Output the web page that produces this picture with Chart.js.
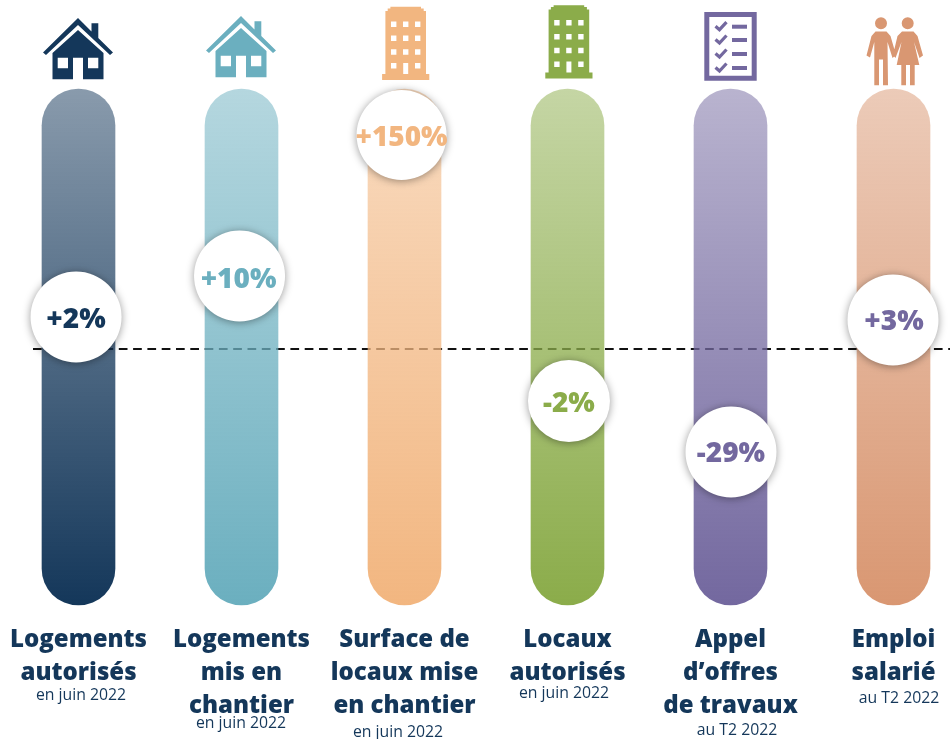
<!DOCTYPE html>
<html>
<head>
<meta charset="utf-8">
<title>Indicateurs construction</title>
<script src="https://cdn.jsdelivr.net/npm/chart.js@4"></script>
<style>
    html, body { margin: 0; padding: 0; background: #fff; overflow: hidden; }
    canvas { display: block; }
</style>
</head>
<body>
<canvas id="chart" width="950" height="739"></canvas>
<script>
// categories, one array per line of the label
const categories = [
    ['Logements', 'autorisés'],
    ['Logements', 'mis en', 'chantier'],
    ['Surface de', 'locaux mise', 'en chantier'],
    ['Locaux', 'autorisés'],
    ['Appel', 'd’offres', 'de travaux'],
    ['Emploi', 'salarié']
];
const periods = ['en juin 2022', 'en juin 2022', 'en juin 2022', 'en juin 2022', 'au T2 2022', 'au T2 2022'];
const changeLabels = ['+2%', '+10%', '+150%', '-2%', '-29%', '+3%'];

// height of the circles above the dashed line (read off the picture, not to scale)
const markerLevels = [32, 73, 214, -52, -103, 29];
const markerShift = [-0.015, -0.012, -0.018, 0.009, 0.003, -0.003];
const markerSizes = [45.5, 45.5, 45, 41, 45.5, 45.5];
const barRange = [-256, 260];

const colors = ['#14375a', '#6bafbf', '#f2b680', '#8bac4a', '#73689f', '#d99772'];
const markerTextColors = ['#14375a', '#6bafbf', '#f2b680', '#8bac4a', '#73689f', '#73689f'];
const textColor = '#14375a';

// small corrections for the text inside the circles
const labelNudgeX = [0, -1, 0, 0, 0, 1];
const labelNudgeY = [3, 4, 3, 3, 2, 2];

// where the small period text sits
const periodX = [81, 241, 398, 564, 737, 899];
const periodY = [695, 723, 732, 693, 730, 698];

function withAlpha(hex, a) {
    const n = parseInt(hex.slice(1), 16);
    return 'rgba(' + (n >> 16) + ',' + ((n >> 8) & 255) + ',' + (n & 255) + ',' + a + ')';
}

function barGradient(context) {
    const chart = context.chart;
    if (!chart.chartArea) return colors[context.dataIndex];
    const c = colors[context.dataIndex];
    const g = chart.ctx.createLinearGradient(0, 89, 0, 605);
    g.addColorStop(0, withAlpha(c, 0.5));
    g.addColorStop(1, withAlpha(c, 1));
    return g;
}

// icons, x is relative to the centre of the bar
function poly(ctx, pts) {
    ctx.moveTo(pts[0], pts[1]);
    for (let i = 2; i < pts.length; i += 2) ctx.lineTo(pts[i], pts[i + 1]);
    ctx.closePath();
}

function drawHouse(ctx, color) {
    ctx.fillStyle = color;
    ctx.beginPath();
    poly(ctx, [0, 18, 13.5, 31.5, 13.5, 23.3, 20.3, 23.3, 20.3, 38, 35, 52.5, 32, 55, 0, 25, -32, 55, -35, 52.5]);
    ctx.fill();
    ctx.beginPath();
    poly(ctx, [0, 30, 25.5, 53, 25.5, 79.3, 5, 79.3, 5, 57.7, -5, 57.7, -5, 79.3, -25.5, 79.3, -25.5, 53]);
    ctx.rect(10, 57.7, 10.3, 10.5);
    ctx.rect(-20.3, 57.7, 10.3, 10.5);
    ctx.fill('evenodd');
}

function drawBuilding(ctx, color) {
    ctx.fillStyle = color;
    ctx.beginPath();
    poly(ctx, [-15.3, 6.7, 15.3, 6.7, 15.3, 8.5, 18, 8.5, 18, 11, 20.3, 11, 20.3, 74, 23.6, 74, 23.6, 80, -23.6, 80,
        -23.6, 74, -20.3, 74, -20.3, 11, -18, 11, -18, 8.5, -15.3, 8.5]);
    [24.3, 38.3, 52, 65.7].forEach(function (wy, row) {
        [-12, 0, 12].forEach(function (wx, col) {
            if (row === 3 && col === 1) ctx.rect(-2.5, 63, 5, 11);
            else ctx.rect(wx - 2.7, wy - 2.7, 5.4, 5.4);
        });
    });
    ctx.fill('evenodd');
}

function drawChecklist(ctx, color) {
    ctx.fillStyle = color;
    ctx.strokeStyle = color;
    ctx.beginPath();
    ctx.rect(-26.2, 12, 52.4, 68.7);
    ctx.rect(-21.2, 17, 42.4, 58.7);
    ctx.fill('evenodd');
    [26.7, 40, 54, 68].forEach(function (ry) {
        ctx.fillRect(1.5, ry - 2, 15, 4);
        ctx.lineWidth = 3.2;
        ctx.beginPath();
        ctx.moveTo(-15, ry - 0.5);
        ctx.lineTo(-11, ry + 3);
        ctx.lineTo(-4, ry - 4.5);
        ctx.stroke();
    });
}

function drawPeople(ctx, color) {
    ctx.fillStyle = color;
    ctx.beginPath();
    ctx.arc(-12.5, 23.3, 6, 0, Math.PI * 2);
    ctx.closePath();
    ctx.moveTo(20.2, 23.3);
    ctx.arc(14.2, 23.3, 6, 0, Math.PI * 2);
    ctx.closePath();
    poly(ctx, [-18, 31.5, -7, 31.5, -3, 36, 2.5, 55, -1, 58, -6, 42, -5.5, 85.3, -10.5, 85.3, -10.5, 59.5, -14.5, 59.5,
        -14.5, 85.3, -19.2, 85.3, -19.2, 42, -23.5, 57.5, -27, 55.5, -22, 36]);
    poly(ctx, [8.5, 31.5, 20, 31.5, 24, 36, 29.5, 55.5, 26, 58, 20.5, 42, 25.8, 65, 21.2, 65, 21.2, 85.3, 16.5, 85.3,
        16.5, 65, 12.5, 65, 12.5, 85.3, 7.8, 85.3, 7.8, 65, 3.2, 65, 8, 42, 2, 58, -0.5, 55, 4, 36]);
    ctx.fill();
}

const iconDrawers = [drawHouse, drawHouse, drawBuilding, drawBuilding, drawChecklist, drawPeople];
const iconShift = [[-0.5, 0], [-0.5, -2], [1.2, 0], [1.4, -1.5], [0, 0], [0, 0]];

// dashed reference line goes under the see-through bars
const zeroLine = {
    id: 'zeroLine',
    beforeDatasetsDraw(chart) {
        const ctx = chart.ctx;
        const y = chart.scales.y.getPixelForValue(0);
        ctx.save();
        ctx.strokeStyle = '#111';
        ctx.lineWidth = 2;
        ctx.setLineDash([8.7, 5.6]);
        ctx.beginPath();
        ctx.moveTo(33, y);
        ctx.lineTo(950, y);
        ctx.stroke();
        ctx.restore();
    }
};

const circleShadow = {
    id: 'circleShadow',
    beforeDatasetDraw(chart, args) {
        if (args.index !== 1) return;
        chart.ctx.save();
        chart.ctx.shadowColor = 'rgba(0,0,0,0.4)';
        chart.ctx.shadowBlur = 8;
        chart.ctx.shadowOffsetY = 1;
    },
    afterDatasetDraw(chart, args) {
        if (args.index === 1) chart.ctx.restore();
    }
};

const extras = {
    id: 'extras',
    afterDraw(chart) {
        const ctx = chart.ctx;
        const points = chart.getDatasetMeta(1).data;
        ctx.save();
        ctx.textAlign = 'center';
        ctx.textBaseline = 'middle';

        ctx.font = '800 28px "Open Sans"';
        changeLabels.forEach(function (label, i) {
            ctx.fillStyle = markerTextColors[i];
            ctx.fillText(label, points[i].x + labelNudgeX[i], points[i].y + labelNudgeY[i]);
        });

        ctx.font = '400 15.8px "Open Sans"';
        ctx.fillStyle = textColor;
        periods.forEach(function (p, i) {
            ctx.fillText(p, periodX[i], periodY[i]);
        });

        iconDrawers.forEach(function (draw, i) {
            ctx.save();
            ctx.translate(chart.scales.x.getPixelForValue(i) + iconShift[i][0], iconShift[i][1]);
            draw(ctx, colors[i]);
            ctx.restore();
        });
        ctx.restore();
    }
};

let chart = new Chart(document.getElementById('chart'), {
    type: 'bar',
    plugins: [zeroLine, circleShadow, extras],
    data: {
        labels: categories,
        datasets: [{
            data: categories.map(function () { return barRange; }),
            backgroundColor: barGradient,
            barThickness: 73,
            borderRadius: 36.5,
            borderSkipped: false,
            grouped: false,
            clip: false,
            order: 2
        }, {
            type: 'line',
            xAxisID: 'xm',
            data: markerLevels.map(function (v, i) { return { x: i + markerShift[i], y: v }; }),
            showLine: false,
            pointRadius: markerSizes,
            pointHoverRadius: markerSizes,
            pointBackgroundColor: '#fff',
            pointBorderWidth: 0,
            clip: false,
            order: 1
        }]
    },
    options: {
        responsive: false,
        animation: false,
        layout: { padding: { left: 78.5, right: 56.5, top: 0, bottom: 0 } },
        plugins: { legend: { display: false }, tooltip: { enabled: false } },
        scales: {
            x: {
                offset: false,
                grid: { display: false, drawTicks: false },
                border: { display: false },
                ticks: {
                    autoSkip: false,
                    maxRotation: 0,
                    padding: 19,
                    color: textColor,
                    font: { family: 'Open Sans', size: 24, weight: '800', lineHeight: 1.375 }
                },
                afterFit(scale) {
                    scale.height = 134;
                    scale.paddingLeft = 0;
                    scale.paddingRight = 0;
                }
            },
            xm: { type: 'linear', display: false, offset: false, min: 0, max: 5 },
            // the large first and last points push the plot area down, so the top of the axis is 349 - 45.5
            y: { display: false, min: -256, max: 303.5 }
        }
    }
});
</script>
</body>
</html>
